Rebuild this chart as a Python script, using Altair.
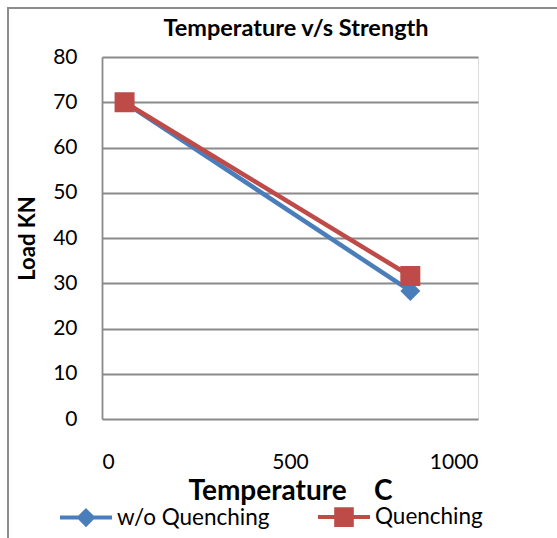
import altair as alt
import pandas as pd

temperature = [60, 820]
wo_quenching = [70, 28.3]
quenching = [70, 31.6]
series_names = ["w/o Quenching", "Quenching"]
series_colors = ["#4A7EBB", "#BE4B48"]
y_ticks = [0, 10, 20, 30, 40, 50, 60, 70, 80]
x_ticks = [0, 500, 1000]

rows = []
for t, v in zip(temperature, wo_quenching):
    rows.append({"temp": t, "load": v, "series": series_names[0]})
for t, v in zip(temperature, quenching):
    rows.append({"temp": t, "load": v, "series": series_names[1]})
df = pd.DataFrame(rows)

FONT = "Lato"
GRID = "#8a8a8a"

xenc = alt.X("temp:Q", scale=alt.Scale(domain=[0, 1000], nice=False),
             axis=alt.Axis(values=x_ticks, format="d", grid=False, domain=False, ticks=False, tickSize=0,
                           labelPadding=32, labelFontSize=21, labelFont=FONT, labelColor="black",
                           title="Temperature\u00a0\u00a0\u00a0\u00a0C", titleFont=FONT, titleFontSize=28,
                           titleFontWeight="bold", titleColor="black",
                           titleBaseline="alphabetic", titleY=80))
yenc = alt.Y("load:Q", scale=alt.Scale(domain=[0, 80], nice=False),
             axis=alt.Axis(values=y_ticks, grid=True, gridColor=GRID, gridWidth=1.8,
                           domain=True, domainColor=GRID, domainWidth=1.8,
                           ticks=False, tickSize=0, labelPadding=25, labelFontSize=21,
                           labelFont=FONT, labelColor="black",
                           title="Load KN", titleFont=FONT, titleFontSize=22,
                           titleFontWeight="bold", titleColor="black", titleX=-63))

blue_path = "M-1,0L1,0M0,-0.26L0.26,0L0,0.26L-0.26,0Z"
red_path = "M-1,0L1,0M-0.3,-0.3L0.3,-0.3L0.3,0.3L-0.3,0.3Z"
legend = alt.Legend(
    title=None, orient="none", legendX=-44, legendY=432, direction="horizontal",
    columns=2, columnPadding=40, labelFont=FONT, labelFontSize=22.5, labelColor="black",
    labelOffset=3, symbolSize=2704, symbolStrokeWidth=4, symbolOpacity=1, padding=0,
)
sdom = alt.Scale(domain=series_names, range=series_colors)

base = alt.Chart(df)
layers = []
shapes = ["diamond", "square"]
for name, col, shp in zip(series_names, series_colors, shapes):
    sub = base.transform_filter(alt.datum.series == name)
    layers.append(sub.mark_line(strokeWidth=4.5, color=col).encode(x=xenc, y=yenc))
    layers.append(sub.mark_point(filled=True, size=400, shape=shp, opacity=1, color=col).encode(
        x=xenc, y=yenc))

legend_layer = base.transform_filter("false").mark_point(filled=True, opacity=1).encode(
    x=xenc, y=yenc,
    fill=alt.Fill("series:N", scale=sdom, legend=legend),
    stroke=alt.Stroke("series:N", scale=sdom, legend=legend),
    shape=alt.Shape("series:N", scale=alt.Scale(domain=series_names, range=[blue_path, red_path]),
                    legend=legend),
)

border = alt.Chart(pd.DataFrame({"a": [0]})).mark_rect(
    fill="white", fillOpacity=0, stroke="#8c8c8c", strokeWidth=2).encode(
    x=alt.value(-94), x2=alt.value(480), y=alt.value(-49), y2=alt.value(500))

chart = alt.layer(border, *layers, legend_layer).properties(
    width=376, height=362,
    title=alt.TitleParams("Temperature v/s Strength", font=FONT, fontSize=23.5, fontWeight="bold",
                          color="black", anchor="middle", offset=0, dx=6, dy=52,
                          baseline="alphabetic"),
    padding={"left": 102, "top": 57, "right": 79, "bottom": 119},
    autosize=alt.AutoSizeParams(type="none"),
).configure_view(stroke=None).configure(background="white")

chart.save("out.html", embed_options={"renderer": "svg", "actions": False})
